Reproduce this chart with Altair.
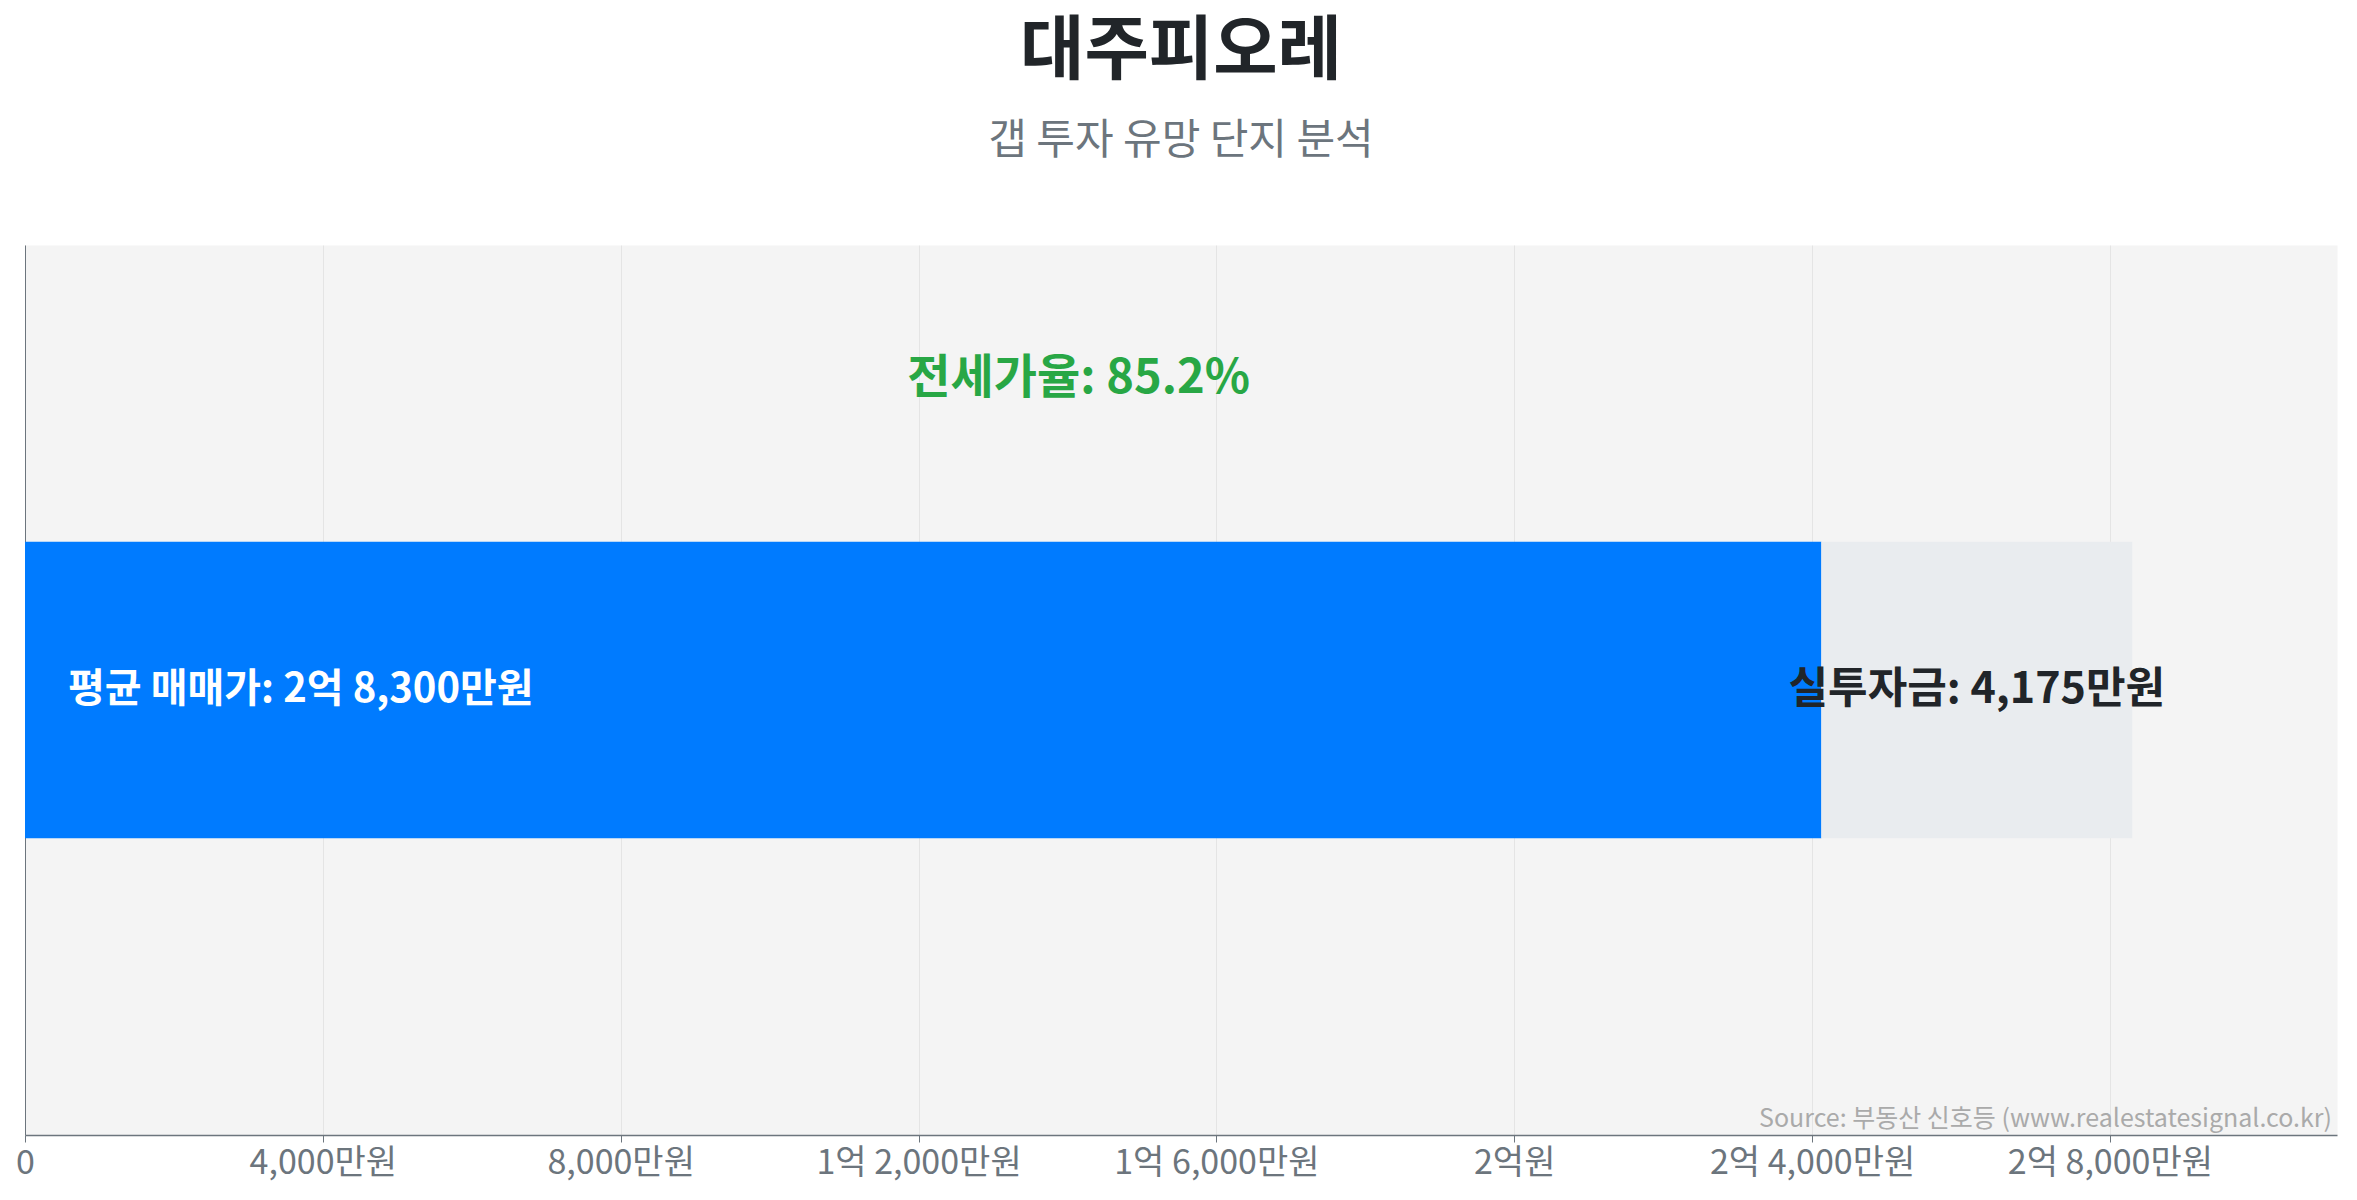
import altair as alt
import pandas as pd

# ---- data (만원 units) ----
complex_name = "대주피오레"
subtitle_text = "갭 투자 유망 단지 분석"
avg_price = 28300
jeonse_price = 24125
invest_amount = 4175
jeonse_ratio = 85.2
source_text = "Source: 부동산 신호등 (www.realestatesignal.co.kr)"

seg_names = ["전세가", "실투자금"]
seg_start = [0, jeonse_price]
seg_end = [jeonse_price, avg_price]
seg_colors = ["#007bff", "#e9ecef"]

tick_values = [0, 4000, 8000, 12000, 16000, 20000, 24000, 28000]
x_max = 31050

FONT = "Noto Sans CJK KR"

bars_df = pd.DataFrame({"name": seg_names, "start": seg_start, "end": seg_end,
                        "lo": [1, 1], "hi": [2, 2]})

x_scale = alt.Scale(domain=[0, x_max], nice=False, zero=True)
y_scale = alt.Scale(domain=[0, 3], nice=False)

label_expr = (
    "datum.value == 0 ? '0' : (floor(datum.value / 10000) > 0 ? "
    "floor(datum.value / 10000) + '억' + (datum.value % 10000 > 0 ? ' ' + format(datum.value % 10000, ',') + '만원' : '원') "
    ": format(datum.value, ',') + '만원')"
)

x_axis = alt.Axis(values=tick_values, labelExpr=label_expr, title=None,
                  grid=True, gridColor="#e4e4e4", gridWidth=1,
                  domainColor="#6c757d", domainWidth=1.5,
                  tickColor="#6c757d", tickSize=7,
                  labelFont=FONT, labelFontSize=34, labelColor="#6c757d",
                  labelPadding=4, labelLimit=0, labelFlush=False,
                  labelOverlap=False)
y_axis = alt.Axis(title=None, labels=False, ticks=False, grid=False,
                  domainColor="#6c757d", domainWidth=1)

bars = alt.Chart(bars_df).mark_bar().encode(
    x=alt.X("start:Q", scale=x_scale, axis=x_axis),
    x2="end:Q",
    y=alt.Y("lo:Q", scale=y_scale, axis=y_axis),
    y2="hi:Q",
    color=alt.Color("name:N", scale=alt.Scale(domain=seg_names, range=seg_colors), legend=None),
)

price_label_df = pd.DataFrame({"x": [0], "y": [1.5],
                               "t": ["평균 매매가: 2억 8,300만원"]})
price_label = alt.Chart(price_label_df).mark_text(
    align="left", baseline="middle", dx=43, font=FONT, fontSize=40,
    fontWeight="bold", color="#ffffff"
).encode(x=alt.X("x:Q", scale=x_scale), y=alt.Y("y:Q", scale=y_scale), text="t:N")

invest_label_df = pd.DataFrame({"x": [(jeonse_price + avg_price) / 2], "y": [1.5],
                                "t": [f"실투자금: {invest_amount:,}만원"]})
invest_label = alt.Chart(invest_label_df).mark_text(
    align="center", baseline="middle", font=FONT, fontSize=43,
    fontWeight="bold", color="#212529"
).encode(x=alt.X("x:Q", scale=x_scale), y=alt.Y("y:Q", scale=y_scale), text="t:N")

ratio_label_df = pd.DataFrame({"x": [avg_price / 2], "y": [2.55],
                               "t": [f"전세가율: {jeonse_ratio}%"]})
ratio_label = alt.Chart(ratio_label_df).mark_text(
    align="center", baseline="middle", font=FONT, fontSize=47,
    fontWeight="bold", color="#28a745"
).encode(x=alt.X("x:Q", scale=x_scale), y=alt.Y("y:Q", scale=y_scale), text="t:N")

source_df = pd.DataFrame({"t": [source_text]})
source = alt.Chart(source_df).mark_text(
    align="right", baseline="alphabetic", font=FONT, fontSize=25, color="#aaaaaa"
).encode(x=alt.value(2307), y=alt.value(882), text="t:N")

chart = alt.layer(bars, price_label, invest_label, ratio_label, source).properties(
    width=2312, height=890,
    title=alt.TitleParams(
        text=complex_name, subtitle=subtitle_text,
        font=FONT, fontSize=70, fontWeight="bold", color="#212529",
        subtitleFont=FONT, subtitleFontSize=42, subtitleColor="#6c757d",
        subtitlePadding=32, anchor="middle", offset=82,
    ),
    autosize=alt.AutoSizeParams(type="none"),
    padding={"left": 17, "top": 237, "right": 10, "bottom": 60},
).configure_view(fill="#f4f4f4", stroke="transparent")

chart.save("out.html", embed_options={"renderer": "svg", "actions": False})
